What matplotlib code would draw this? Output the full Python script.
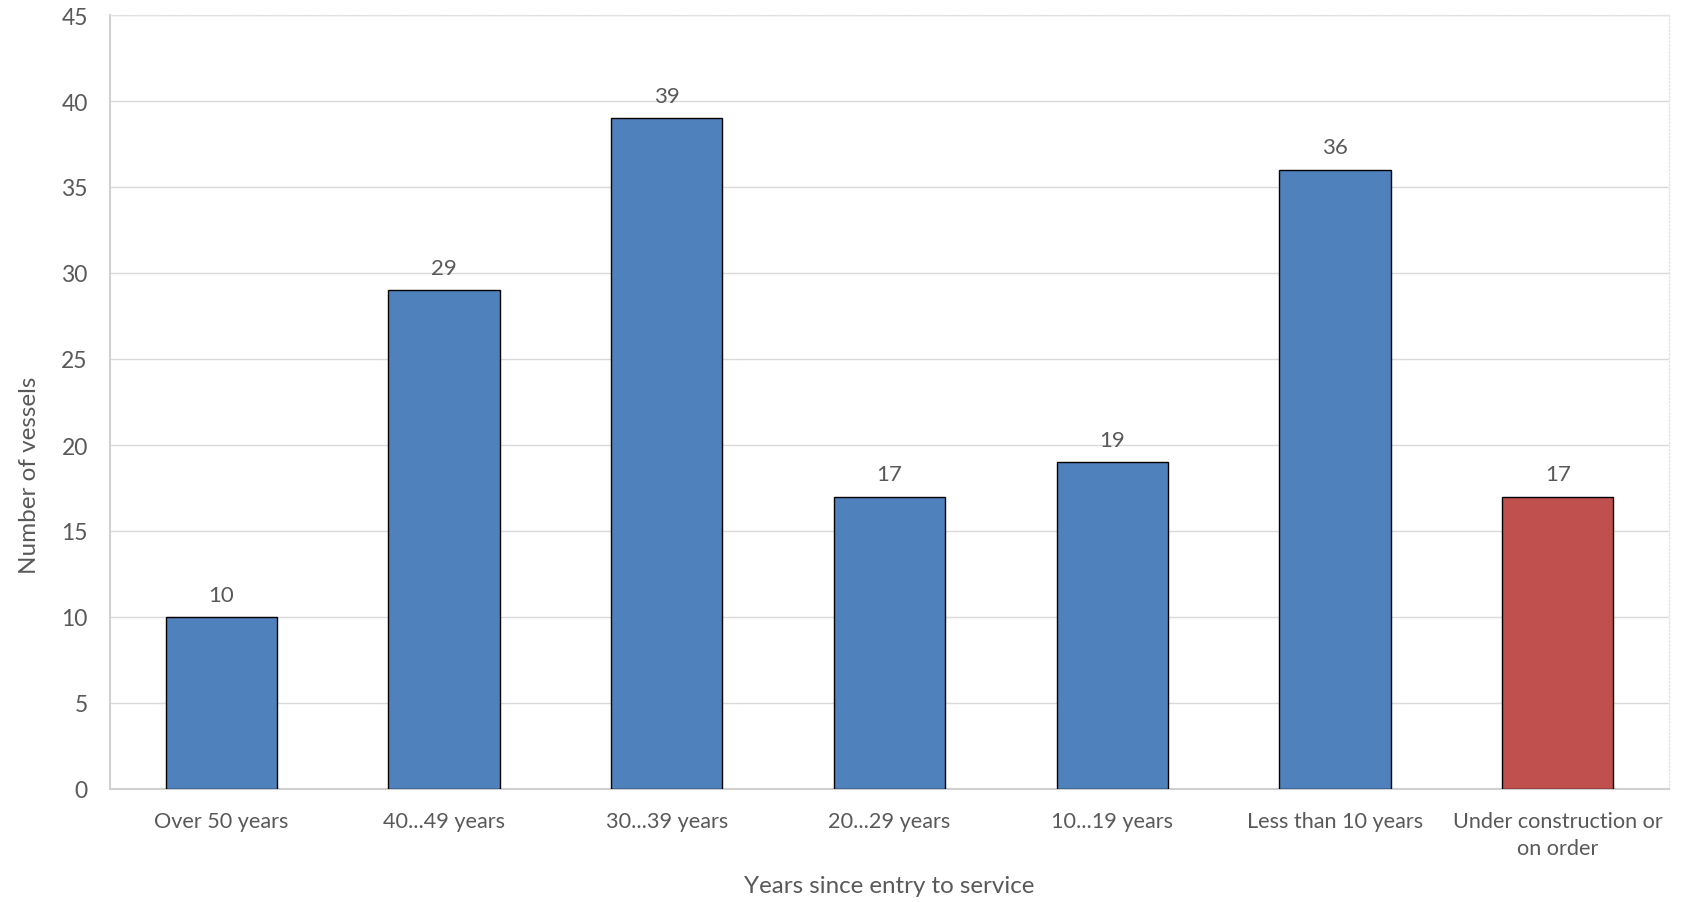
import matplotlib.pyplot as plt
import numpy as np

categories = ['Over 50 years', '40...49 years', '30...39 years', '20...29 years',
              '10...19 years', 'Less than 10 years', 'Under construction or\non order']
vessels = [10, 29, 39, 17, 19, 36, 17]
bar_colors = ['#4F81BD'] * 6 + ['#C0504D']

plt.rcParams['font.family'] = ['Lato', 'DejaVu Sans']
text_color = '#595959'

fig = plt.figure(figsize=(16.83, 9.03), dpi=100)
ax = fig.add_axes([110 / 1683, 1 - 790 / 903, (1669 - 110) / 1683, (790 - 16) / 903])

x = np.arange(len(categories))
bars = ax.bar(x, vessels, width=0.5, color=bar_colors, edgecolor='black', linewidth=1.0, zorder=3)

# value labels above each bar
for xi, v in zip(x, vessels):
    ax.annotate(str(v), (xi, v), xytext=(0, 9), textcoords='offset points',
                ha='center', va='bottom', fontsize=16, color=text_color)

ax.set_xlim(-0.5, len(categories) - 0.5)
ax.set_ylim(0, 45)
ax.set_yticks(np.arange(0, 46, 5))
ax.set_xticks(x)
ax.set_xticklabels(categories, linespacing=1.45)
ax.tick_params(axis='both', length=0, colors=text_color)
ax.tick_params(axis='x', pad=16, labelsize=15.6)
ax.tick_params(axis='y', pad=16, labelsize=16.5)

ax.grid(axis='y', color='#d9d9d9', linewidth=1.0, zorder=0)
for side in ['left', 'bottom']:
    ax.spines[side].set_color('#d0d0d0')
    ax.spines[side].set_linewidth(1.5)
for side in ['top', 'right']:
    ax.spines[side].set_color('#e4e4e4')
    ax.spines[side].set_linestyle(':')
    ax.spines[side].set_linewidth(1.0)

ax.set_ylabel('Number of vessels', fontsize=17.5, color=text_color)
ax.yaxis.set_label_coords(-0.045, 0.407)
ax.set_xlabel('Years since entry to service', fontsize=17.4, color=text_color, labelpad=12)

fig.savefig('out.png', dpi=100)
